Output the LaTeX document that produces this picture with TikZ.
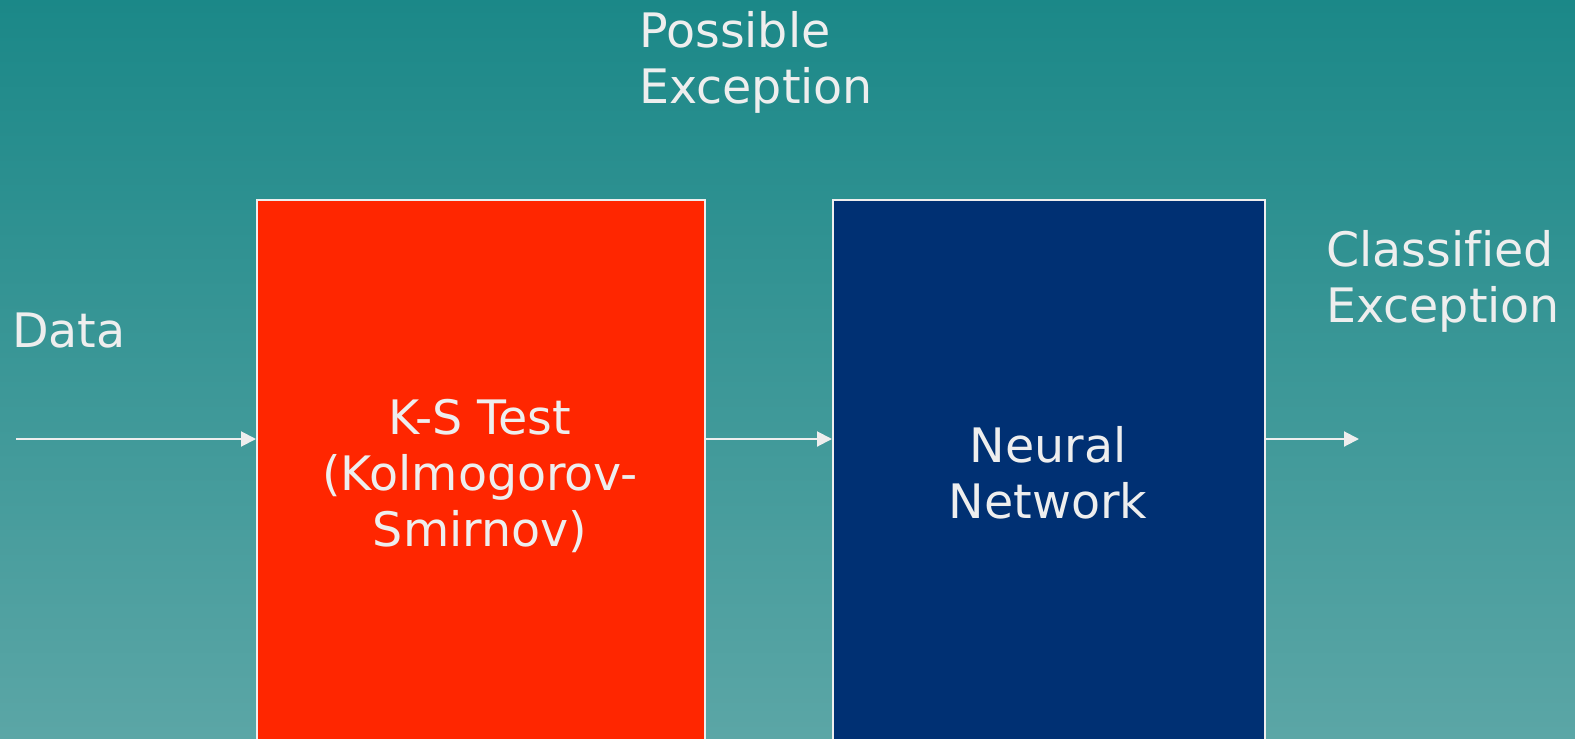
\documentclass[tikz,border=0pt]{standalone}
\usepackage{fontspec}
\setmainfont[Ligatures=NoCommon]{DejaVu Sans}
\usetikzlibrary{arrows.meta}

\definecolor{bgtop}{RGB}{27,136,136}
\definecolor{bgbottom}{RGB}{91,166,166}
\definecolor{ksred}{RGB}{255,38,0}
\definecolor{nnblue}{RGB}{0,48,115}
\definecolor{ink}{RGB}{238,238,238}

\tikzset{
  block/.style={draw=ink, line width=1.6pt, anchor=north west, inner sep=0pt,
    minimum height=620pt},
  caption/.style={text=ink, font=\fontsize{47.5}{56}\selectfont, inner sep=0pt},
  flow/.style={draw=ink, line width=2pt, -{Triangle[length=15pt,width=15pt]}}
}

\begin{document}
\begin{tikzpicture}[x=1pt, y=-1pt]
  % canvas with a vertical teal gradient
  \clip (0,0) rectangle (1575,739);
  \shade[top color=bgtop, bottom color=bgbottom] (0,0) rectangle (1575,739);

  % processing stages
  \node[block, fill=ksred, minimum width=448pt] (ks) at (256,199) {};
  \node[block, fill=nnblue, minimum width=432pt] (nn) at (832,199) {};

  % multi-line captions are placed by the baseline of their last line
  \node[caption, anchor=base, align=center] (kslabel) at (480,546)
    {K-S Test\\(Kolmogorov-\\Smirnov)};
  \node[caption, anchor=base, align=center] (nnlabel) at (1048,518)
    {Neural\\Network};

  % outside labels
  \node[caption, anchor=base west] (data) at (12,347) {Data};
  \node[caption, anchor=base west, align=left] (possible) at (639,103)
    {Possible\\Exception};
  \node[caption, anchor=base west, align=left] (classified) at (1326,322)
    {Classified\\Exception};

  % data flow
  \coordinate (din) at (16,439);
  \coordinate (dout) at (1359,439);
  \draw[flow] (din) -- (din -| ks.west);
  \draw[flow] (ks.east |- din) -- (din -| nn.west);
  \draw[flow] (nn.east |- din) -- (dout);
\end{tikzpicture}
\end{document}
